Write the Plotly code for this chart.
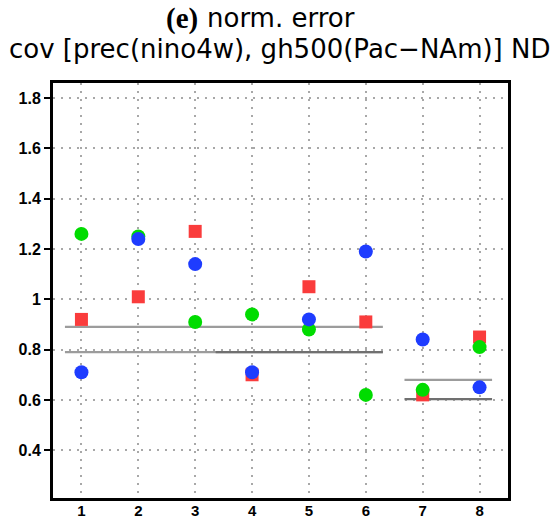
import plotly.graph_objects as go

# ---- data ----
models = [1, 2, 3, 4, 5, 6, 7, 8]
red_vals = [0.92, 1.01, 1.27, 0.70, 1.05, 0.91, 0.62, 0.85]
green_vals = [1.26, 1.25, 0.91, 0.94, 0.88, 0.62, 0.64, 0.81]
blue_vals = [0.71, 1.24, 1.14, 0.71, 0.92, 1.19, 0.84, 0.65]

ref_levels = [0.89, 0.79, 0.79, 0.68, 0.603]
ref_start = [0.71, 0.71, 3.36, 6.68, 6.68]
ref_end = [6.30, 6.30, 6.30, 8.22, 8.22]
ref_colors = ["#9c9c9c", "#9c9c9c", "#707070", "#9c9c9c", "#707070"]

y_tickvals = [0.4, 0.6, 0.8, 1.0, 1.2, 1.4, 1.6, 1.8]
y_ticktext = ["0.4", "0.6", "0.8", "1", "1.2", "1.4", "1.6", "1.8"]

fig = go.Figure()

for lv, x0, x1, c in zip(ref_levels, ref_start, ref_end, ref_colors):
    fig.add_trace(go.Scatter(x=[x0, x1], y=[lv, lv], mode="lines",
                             line=dict(color=c, width=2.2), hoverinfo="skip",
                             showlegend=False))

fig.add_trace(go.Scatter(x=models, y=red_vals, mode="markers",
                         marker=dict(symbol="square", size=13, color="rgb(250,60,60)",
                                     line=dict(width=0)), showlegend=False))
fig.add_trace(go.Scatter(x=models, y=green_vals, mode="markers",
                         marker=dict(symbol="circle", size=14, color="rgb(0,220,0)",
                                     line=dict(width=0)), showlegend=False))
fig.add_trace(go.Scatter(x=models, y=blue_vals, mode="markers",
                         marker=dict(symbol="circle", size=14, color="rgb(30,60,255)",
                                     line=dict(width=0)), showlegend=False))

W, H = 557, 520
ml, mr, mt, mb = 53, 49, 83, 22
ph = H - mt - mb

def py(p):
    return (H - mb - p) / ph

def px(p):
    return (p - ml) / (W - ml - mr)

title_font = dict(family="DejaVu Sans", size=26, color="black")

fig.add_annotation(text="<b>(e)</b>", x=px(164), y=py(18), xref="paper", yref="paper",
                   xanchor="left", yanchor="middle", showarrow=False,
                   font=dict(family="Liberation Serif", size=29, color="black"))
fig.add_annotation(text="norm. error", x=px(205), y=py(18), xref="paper", yref="paper",
                   xanchor="left", yanchor="middle", showarrow=False, font=title_font)
fig.add_annotation(text="cov [prec(nino4w), gh500(Pac\u2212NAm)] ND", x=px(279.5), y=py(49),
                   xref="paper", yref="paper", xanchor="center", yanchor="middle",
                   showarrow=False, font=title_font)

axis_common = dict(showline=True, linecolor="black", linewidth=3, mirror=True,
                   showgrid=True, gridcolor="#a8a8a8", gridwidth=1.6, griddash="2px,6px",
                   zeroline=False, automargin=False)

fig.update_xaxes(range=[0.5, 8.5], tickvals=models, ticktext=[str(m) for m in models],
                 ticks="", ticklabelstandoff=-3,
                 tickfont=dict(family="Liberation Sans", size=15, color="black", weight="bold"),
                 **axis_common)
fig.update_yaxes(range=[0.21, 1.86], tickvals=y_tickvals, ticktext=y_ticktext,
                 ticks="outside", ticklen=6, tickwidth=2, tickcolor="black",
                 tickfont=dict(family="Liberation Sans", size=16, color="black", weight="bold"),
                 **axis_common)

fig.update_layout(width=W, height=H, margin=dict(l=ml, r=mr, t=mt, b=mb),
                  paper_bgcolor="white", plot_bgcolor="white")

fig.write_html("out.html")
